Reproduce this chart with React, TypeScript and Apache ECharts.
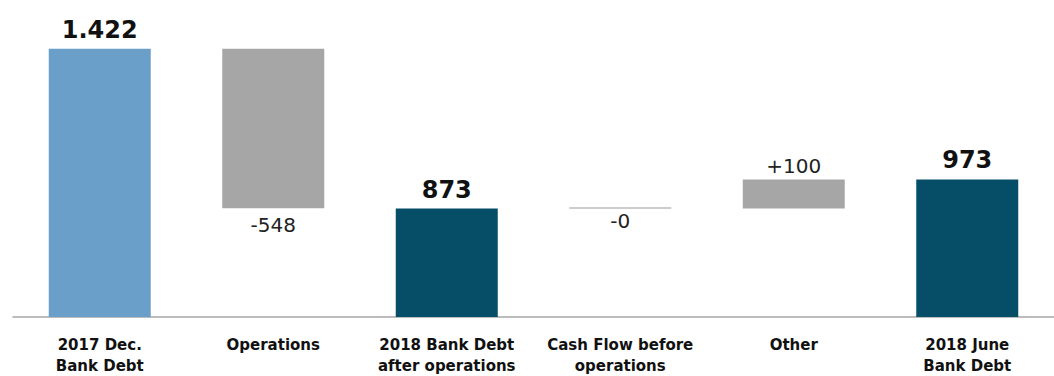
import React, { useEffect, useRef } from "react";
import * as echarts from "echarts";

const categories = [
  "2017 Dec.\nBank Debt",
  "Operations",
  "2018 Bank Debt\nafter operations",
  "Cash Flow before\noperations",
  "Other",
  "2018 June\nBank Debt",
];
// totals (null where the category is a change)
const totals: (number | null)[] = [1422, null, 873, null, null, 973];
// changes (null where the category is a total)
const changes: (number | null)[] = [null, -548, null, -0, 100, null];
const totalLabels = ["1.422", "", "873", "", "", "973"];
const changeLabels = ["", "-548", "", "-0", "+100", ""];

const totalColors = ["#6a9fca", "", "#064e68", "", "", "#064e68"];

export default function App() {
  const ref = useRef<HTMLDivElement>(null);
  useEffect(() => {
    if (!ref.current) return;
    const chart = echarts.init(ref.current, undefined, { renderer: "svg" });

    // running level for floating bars
    let level = 0;
    const baseData: any[] = [];
    const deltaData: any[] = [];
    const totalData: any[] = [];
    categories.forEach((_, i) => {
      const t = totals[i];
      const c = changes[i];
      if (t !== null) {
        level = t;
        baseData.push("-");
        deltaData.push("-");
        totalData.push({
          value: t,
          itemStyle: { color: totalColors[i] },
        });
      } else if (c !== null) {
        const next = level + c;
        const lo = Math.min(level, next);
        const h = Math.abs(c);
        baseData.push(lo);
        const up = c > 0;
        const zero = h === 0;
        deltaData.push({
          value: h,
          itemStyle: { color: zero ? "#9a9a9a" : "#a6a6a6" },
          label: {
            position: up ? "top" : "bottom",
            distance: up ? 3 : zero ? 2 : 7,
          },
        });
        totalData.push("-");
        level = next;
      }
    });

    chart.setOption({
      animation: false,
      grid: { left: 13, top: 0, width: 1050, height: 320, containLabel: false },
      xAxis: {
        type: "category",
        data: categories,
        boundaryGap: true,
        axisLine: { lineStyle: { color: "#a6a6a6", width: 1.5 } },
        axisTick: { length: 7, lineStyle: { color: "#a6a6a6", width: 1.5 } },
        axisLabel: {
          interval: 0,
          margin: 17,
          fontFamily: "DejaVu Sans",
          fontWeight: "bold",
          fontSize: 15,
          lineHeight: 21,
          color: "#111",
        },
      },
      yAxis: {
        type: "value",
        min: 500,
        max: 1590,
        show: false,
        splitLine: { show: false },
      },
      series: [
        {
          name: "base",
          type: "bar",
          stack: "w",
          barWidth: 102,
          itemStyle: { color: "transparent" },
          data: baseData,
          silent: true,
        },
        {
          name: "change",
          type: "bar",
          stack: "w",
          barWidth: 102,
          barMinHeight: 1,
          data: deltaData,
          label: {
            show: true,
            fontFamily: "DejaVu Sans",
            fontSize: 20,
            color: "#222",
            formatter: (p: any) => changeLabels[p.dataIndex],
          },
        },
        {
          name: "total",
          type: "bar",
          stack: "w",
          barWidth: 102,
          data: totalData,
          label: {
            show: true,
            position: "top",
            distance: 7,
            fontFamily: "DejaVu Sans",
            fontWeight: "bold",
            fontSize: 24,
            color: "#111",
            formatter: (p: any) => totalLabels[p.dataIndex],
          },
        },
      ],
    });
    return () => chart.dispose();
  }, []);
  return (
    <div
      ref={ref}
      style={{ position: "absolute", left: 0, top: 0, width: 1054, height: 376, background: "#fff" }}
    />
  );
}
